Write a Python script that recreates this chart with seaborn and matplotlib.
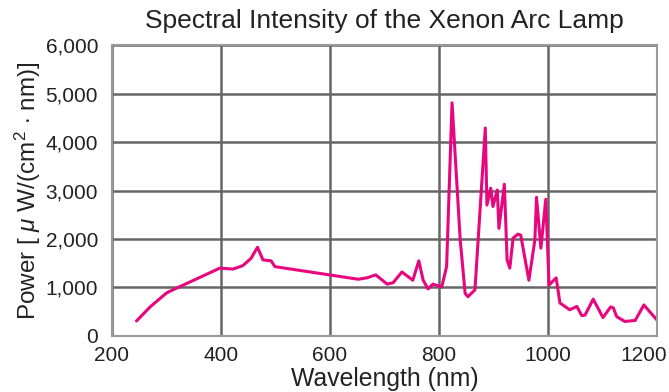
import matplotlib
matplotlib.use("Agg")
import matplotlib.pyplot as plt
import matplotlib.transforms as mtransforms
import seaborn as sns
import pandas as pd

wavelength = [245, 270, 300, 319, 350, 398, 422, 440, 455, 467, 477, 492, 499,
              652, 668, 684, 705, 716, 732, 752, 763, 771, 780, 789, 805, 814,
              824, 839, 848, 853, 866, 885, 888, 895, 899, 907, 910, 920, 925,
              930, 936, 945, 950, 965, 976, 979, 987, 996, 1002, 1015, 1022,
              1040, 1053, 1062, 1068, 1083, 1101, 1115, 1120, 1126, 1141, 1160,
              1176, 1200]
power = [310, 600, 887, 990, 1150, 1400, 1380, 1450, 1600, 1830, 1570, 1550, 1430,
         1170, 1200, 1260, 1070, 1100, 1320, 1150, 1550, 1150, 970, 1070, 1010, 1430,
         4810, 1980, 880, 810, 950, 4290, 2700, 3050, 2670, 3010, 2220, 3130, 1570,
         1400, 2020, 2100, 2080, 1150, 1980, 2860, 1810, 2820, 1050, 1200, 680,
         540, 610, 420, 430, 760, 380, 600, 580, 400, 300, 320,
         640, 330]
xticks = [200, 400, 600, 800, 1000, 1200]
xticklabels = ["200", "400", "600", "800", "1000", "1200"]
yticks = [0, 1000, 2000, 3000, 4000, 5000, 6000]
yticklabels = ["0", "1,000", "2,000", "3,000", "4,000", "5,000", "6,000"]

sns.set_theme(style="white")
plt.rcParams['font.family'] = ['Liberation Sans', 'DejaVu Sans']
plt.rcParams['mathtext.fontset'] = 'custom'
plt.rcParams['mathtext.rm'] = 'Liberation Sans'
plt.rcParams['mathtext.it'] = 'Liberation Sans:italic'

df = pd.DataFrame({"wl": wavelength, "p": power})

fig = plt.figure(figsize=(6.69, 3.92), dpi=100)
ax = fig.add_axes([0.1674, 0.1429, 0.8146, 0.7421])
sns.lineplot(data=df, x="wl", y="p", ax=ax, color="#E8067E", linewidth=2.2, sort=False)

ax.set_xlim(200, 1200)
ax.set_ylim(0, 6000)
ax.set_xticks(xticks)
ax.set_yticks(yticks)
ax.set_xticklabels(xticklabels)
ax.set_yticklabels(yticklabels)
ax.grid(True, color="#666666", linewidth=1.8)
ax.set_axisbelow(True)
for s in ax.spines.values():
    s.set_color("#999999")
    s.set_linewidth(1.5)
ax.tick_params(axis='y', length=0, labelsize=15, colors="#222222", pad=10)
ax.tick_params(axis='x', length=0, labelsize=15, colors="#222222", pad=7)
# shift last x label inward so it stays inside the figure
lbl = ax.get_xticklabels()[-1]
lbl.set_transform(lbl.get_transform() + mtransforms.ScaledTranslation(-13/100, 0, fig.dpi_scale_trans))

ax.set_xlabel("Wavelength (nm)", fontsize=17.8, color="#222222", labelpad=1.5)
ax.set_ylabel("Power [ $\\mu$ W/(cm$^2$ $\\cdot$ nm)]", fontsize=17.5, color="#222222", labelpad=2)
ax.set_title("Spectral Intensity of the Xenon Arc Lamp", fontsize=19, color="#222222", pad=12)

fig.savefig("out.png", dpi=100)
